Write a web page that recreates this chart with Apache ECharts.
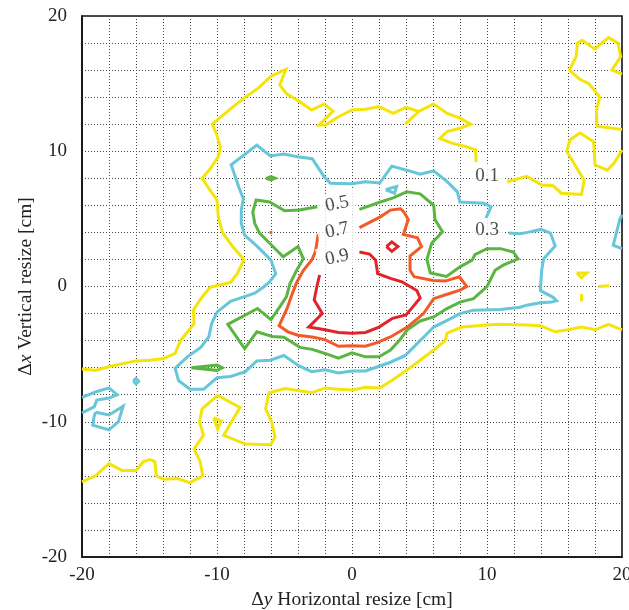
<!DOCTYPE html>
<html>
<head>
<meta charset="utf-8">
<script src="https://cdn.jsdelivr.net/npm/echarts@6/dist/echarts.min.js"></script>
<style>
  html, body { margin: 0; padding: 0; background: #fff; }
  #chart { width: 629px; height: 610px; }
</style>
</head>
<body>
<div id="chart"></div>
<script>
// Contour levels and tick labels
const levels = [0.1, 0.3, 0.5, 0.7, 0.9];
const tickValues = [-20, -10, 0, 10, 20];

// Level 0.1 contour pieces ([Δy, Δx] in cm)
const c01Main = [[-20,-6.1],[-19,-6.2],[-17.9,-5.9],[-16,-5.5],[-15,-5.45],[-14,-5.35],[-13.1,-4.95],[-12.7,-4.0],[-11.7,-2.75],[-11.75,-1.75],[-11.2,-0.9],[-10.5,-0.05],[-9.0,0.3],[-8.5,0.95],[-8.0,2.0],[-8.8,2.9],[-9.6,4.0],[-9.9,5.15],[-10.0,6.4],[-10.5,7.1],[-11.1,8.0],[-10.5,8.7],[-9.9,9.6],[-9.75,10.3],[-10.05,11.3],[-10.35,12.0],[-8.8,13.3],[-7.9,14.0],[-6.9,14.7],[-6.0,15.55],[-4.9,16.05],[-5.35,14.9],[-4.85,14.25],[-4.0,13.75],[-3.0,13.05],[-2.05,13.5],[-1.4,12.95],[-2.45,11.95],[-1.95,11.95],[-1.0,12.55],[0,13.05],[1.0,13.1],[2.0,13.3],[3.05,12.8],[4.0,13.25],[4.95,12.95],[6.05,13.5],[7.05,12.8],[8.0,12.45],[8.8,12.0],[8.0,11.7],[7.05,11.45],[6.5,10.95],[7.4,10.6],[8.4,10.35],[9.15,10.1],[9.2,9.2]];
const c01Right = [[11.5,7.75],[12.95,8.15],[13.45,7.85],[14.05,7.5],[14.9,7.45],[15.5,6.9],[17.0,6.8],[17.2,7.85],[15.9,10.0],[16.15,10.85],[16.9,11.35],[17.9,10.7],[18.0,9.0],[18.9,8.6],[19.4,9.1],[20,10.1]];
const c01TopRight = [[20,11.6],[18.15,11.85],[18.1,13.0],[18.35,14.0],[17.55,15.0],[16.9,15.3],[16.1,16.0],[16.6,17.0],[16.7,18.0],[17.05,18.2],[18.0,17.55],[18.5,18.0],[19.0,18.4],[19.7,18.0],[19.9,17.0],[19.25,16.0],[20,15.7]];
const c01Bottom = [[20,-3.2],[19,-2.8],[18,-3.2],[17,-3.0],[16,-3.2],[15.05,-3.35],[13.95,-2.9],[12.95,-2.85],[11,-2.8],[10,-2.85],[8.15,-3.0],[7.05,-3.45],[6.9,-4.0],[6.05,-4.7],[5.05,-5.45],[4.05,-6.2],[2.95,-6.95],[2.05,-7.5],[1.0,-7.45],[0,-7.65],[-1.0,-7.6],[-2.0,-7.5],[-2.95,-7.85],[-4.95,-7.55],[-6.15,-7.85],[-6.4,-9.05],[-5.95,-10.0],[-5.7,-11.15],[-6.05,-11.7],[-7.9,-11.65],[-9.5,-11.0],[-8.3,-8.95],[-9.95,-8.05],[-11.1,-9.05],[-11.3,-10.0],[-11.0,-11.0],[-11.7,-12.0],[-11.25,-12.95],[-11.05,-14.0],[-12.0,-14.5],[-12.95,-14.2],[-13.95,-14.25],[-14.5,-14.0],[-14.6,-12.95],[-14.95,-12.8],[-15.45,-12.95],[-16.0,-13.6],[-17.05,-13.6],[-18.0,-13.1],[-19.0,-14.0],[-20,-14.45]];
const c01Branch = [[4.95,12.95],[3.95,12.0]];
const c01Loop = [[-10.25,-9.7],[-9.7,-9.95],[-9.95,-10.55],[-10.25,-9.7]];
const c01Tri = [[16.65,1.0],[17.4,1.0],[17.0,0.65],[16.65,1.0]];
const c01StubA = [[17.0,-0.55],[17.0,-1.1]];
const c01StubB = [[18.25,0.0],[19.05,0.05]];

// Level 0.3 contour pieces
const c03Main = [[11.6,3.95],[12.45,3.9],[13.0,4.0],[14.0,4.22],[14.7,3.95],[15.05,3.0],[14.2,2.05],[14.05,1.2],[13.95,-0.3],[14.9,-0.8],[15.15,-1.05],[14.8,-1.15],[13.95,-1.2],[12.95,-1.38],[12.45,-1.53],[11.0,-1.7],[9.0,-1.75],[8.0,-2.0],[7.05,-2.5],[6.05,-3.0],[5.3,-3.75],[4.55,-4.5],[3.95,-5.1],[2.85,-5.6],[1.85,-5.95],[1.0,-6.25],[0,-6.25],[-1.0,-6.4],[-2.0,-6.15],[-3.0,-6.3],[-3.95,-5.85],[-5.05,-5.1],[-6.05,-5.45],[-7.05,-5.5],[-7.9,-6.3],[-9.0,-6.65],[-10.0,-6.75],[-11.0,-7.6],[-12.0,-7.6],[-12.85,-6.95],[-13.1,-6.05],[-12.2,-5.2],[-11.2,-4.5],[-10.6,-3.7],[-10.4,-2.75],[-10.0,-1.9],[-9.0,-1.1],[-7.2,-0.5],[-6.5,0.0],[-6.1,0.35],[-5.65,0.95],[-6.0,1.95],[-6.5,2.45],[-7.0,2.95],[-7.95,3.8],[-8.2,4.65],[-8.2,5.65],[-8.05,6.5],[-8.35,7.25],[-8.95,9.0],[-7.05,10.45],[-6.05,9.65],[-5.05,9.8],[-4.05,9.6],[-2.95,9.45],[-2.05,8.1],[-1.6,7.63],[0,7.6],[1.0,7.75],[2.05,7.65],[2.95,8.9],[4.05,8.6],[5.05,8.3],[6.05,8.55],[7.05,7.75],[7.8,7.0],[8.0,6.25],[9.0,6.2],[9.75,6.15],[10.3,5.9],[9.9,5.0]];
const c03LeftA = [[-20,-8.2],[-19,-7.8],[-18,-7.5],[-17.4,-8.0],[-18,-8.25],[-18.9,-8.4],[-19.1,-8.9],[-20,-9.35]];
const c03LeftB = [[-19.0,-9.3],[-18.0,-9.5],[-16.95,-8.85],[-17.3,-10.0],[-18.0,-10.6],[-19.2,-10.25],[-19.1,-9.6],[-19.0,-9.3]];
const c03Dot = [[-16.2,-7],[-16,-6.8],[-15.8,-7],[-16,-7.2],[-16.2,-7]];
const c03Tri = [[2.5,7.15],[3.3,7.4],[3.15,6.9],[2.5,7.15]];
const c03Edge = [[20,5.3],[19.85,5.0],[19.35,3.05],[20,2.8]];

// Level 0.5 contour pieces
const c05Main = [[0.55,5.7],[2.1,6.25],[3.05,6.55],[4.05,7.0],[5.05,6.85],[6.05,6.0],[6.15,4.95],[6.7,4.05],[5.9,3.2],[5.55,2.0],[5.8,1.0],[7.0,0.75],[8.0,1.45],[8.9,1.95],[9.1,2.35],[10.0,2.8],[11.0,2.8],[11.95,2.55],[12.3,2.05],[11.2,1.58],[10.6,1.2],[10.0,0.0],[9.0,-0.9],[8.0,-1.15],[7.0,-1.65],[6.05,-2.25],[5.05,-2.55],[4.1,-3.2],[3.5,-4.0],[2.85,-4.7],[2.0,-5.2],[1.0,-5.2],[0,-4.9],[-1.0,-5.3],[-2.0,-4.95],[-2.95,-4.65],[-3.85,-4.5],[-5.05,-3.75],[-5.9,-3.7],[-7.05,-3.35],[-7.95,-4.6],[-9.2,-2.8],[-7.0,-1.63],[-6.0,-2.45],[-5.35,-1.5],[-4.85,-0.75],[-4.6,0.2],[-4.1,1.2],[-3.6,2.05],[-4.0,2.95],[-5.1,2.2],[-6.1,3.2],[-6.85,3.95],[-7.2,4.65],[-7.35,5.5],[-7.1,6.4],[-6.1,6.25],[-5.0,5.6],[-3.9,5.65],[-2.55,5.9]];
const c05Dot = [[-6.35,8],[-6,8.12],[-5.7,8],[-6,7.88],[-6.35,8]];
const c05Spike = [[-11.9,-6.0],[-10,-5.8],[-9.6,-6.0],[-10,-6.2],[-11.9,-6.0]];

// Level 0.7 contour pieces
const c07Main = [[0.55,4.35],[2.1,5.15],[2.85,5.65],[3.6,5.75],[3.85,5.5],[4.17,4.95],[3.8,3.85],[4.85,3.6],[5.15,2.95],[4.3,2.25],[4.3,1.2],[4.6,0.72],[6.0,0.45],[6.9,0.4],[7.95,0.72],[8.5,0.0],[8.0,-0.27],[7.05,-0.57],[6.05,-0.9],[5.3,-2.0],[4.1,-3.0],[2.85,-3.73],[1.85,-4.15],[1.0,-4.42],[0,-4.38],[-1.0,-4.42],[-2.0,-3.93],[-2.85,-3.75],[-4.0,-3.6],[-4.75,-3.35],[-5.4,-2.9],[-4.8,-1.6],[-4.45,-0.6],[-4.1,0.3],[-3.6,1.2],[-2.95,2.0],[-2.7,2.6],[-2.5,3.9]];
const c07Dot = [[-6.1,4.0],[-6,4.1],[-5.9,4.0],[-6,3.9],[-6.1,4.0]];

// Level 0.9 contour pieces
const c09Main = [[0.55,2.55],[1.3,2.4],[1.75,1.95],[1.9,0.95],[2.85,0.6],[3.7,0.35],[4.8,-0.3],[5.05,-0.85],[4.55,-1.45],[4.0,-2.1],[3.0,-2.35],[2.0,-3.0],[1.0,-3.4],[0,-3.45],[-1.0,-3.4],[-2.0,-3.2],[-3.2,-3.0],[-2.2,-2.0],[-2.8,-1.0],[-2.6,0.0],[-2.4,0.85]];
const c09Diamond = [[2.55,2.95],[2.95,3.3],[3.4,2.95],[2.95,2.6],[2.55,2.95]];

// Inline level labels
const labelText = ['0.1', '0.3', '0.5', '0.7', '0.9'];
const labelX = [10.0, 10.0, -1.1, -1.1, -1.1];
const labelY = [8.15, 4.15, 6.1, 4.15, 2.15];

// Pieces grouped by level
const pieces = [
  [0, [c01Main, c01Right, c01TopRight, c01Bottom, c01Branch, c01Loop, c01Tri, c01StubA, c01StubB]],
  [1, [c03Main, c03LeftA, c03LeftB, c03Dot, c03Tri, c03Edge]],
  [2, [c05Main, c05Dot, c05Spike]],
  [3, [c07Main, c07Dot]],
  [4, [c09Main, c09Diamond]]
];

const colors = ['#f5e40a', '#66c6da', '#5cb542', '#f25a28', '#e2232a'];
const FONT = 'Liberation Serif';

const series = [];
pieces.forEach(([li, list]) => {
  list.forEach((arr) => {
    series.push({
      type: 'line',
      name: String(levels[li]),
      data: arr,
      symbol: 'none',
      showSymbol: false,
      clip: true,
      z: 3,
      lineStyle: { color: colors[li], width: 3, join: 'miter' },
      emphasis: { disabled: true },
      silent: true
    });
  });
});

series.push({
  type: 'scatter',
  z: 5,
  symbolSize: 1,
  silent: true,
  itemStyle: { color: 'rgba(0,0,0,0)' },
  data: labelText.map((t, i) => ({
    value: [labelX[i], labelY[i]],
    label: {
      show: true,
      position: 'inside',
      formatter: t,
      rotate: i >= 2 ? 12 : 0,
      fontFamily: FONT,
      fontSize: 19,
      color: '#222',
      backgroundColor: '#fff',
      padding: i >= 2 ? [3, 8] : [3, 5]
    }
  }))
});

const dotted = { color: '#444', width: 1, type: [1, 2] };
const tickFmt = (v) => (tickValues.indexOf(v) >= 0 ? String(v) : '');
const nameRich = {
  n: { fontFamily: FONT, fontSize: 19.5, color: '#222' },
  i: { fontFamily: FONT, fontSize: 19.5, color: '#222', fontStyle: 'italic' }
};

const chart = echarts.init(document.getElementById('chart'), null, { renderer: 'canvas' });
chart.setOption({
  animation: false,
  backgroundColor: '#fff',
  grid: {
    left: 82, top: 16, right: 7, bottom: 53,
    containLabel: false, outerBoundsMode: 'none',
    show: true, borderColor: '#111', borderWidth: 1.6
  },
  xAxis: {
    type: 'value', min: -20, max: 20, interval: 2,
    axisLine: { show: true, onZero: false, lineStyle: { color: '#111', width: 1.6 } },
    axisTick: { show: false },
    splitLine: { show: true, lineStyle: dotted },
    axisLabel: { formatter: tickFmt, fontFamily: FONT, fontSize: 19, color: '#222', margin: 9, showMinLabel: true, showMaxLabel: true },
    name: '{n|Δ}{i|y}{n| Horizontal resize [cm]}',
    nameLocation: 'middle', nameGap: 33,
    nameTextStyle: { rich: nameRich }
  },
  yAxis: {
    type: 'value', min: -20, max: 20, interval: 2,
    axisLine: { show: true, onZero: false, lineStyle: { color: '#111', width: 1.6 } },
    axisTick: { show: false },
    splitLine: { show: true, lineStyle: dotted },
    axisLabel: { formatter: tickFmt, fontFamily: FONT, fontSize: 19, color: '#222', margin: 15, showMinLabel: true, showMaxLabel: true },
    name: '{n|Δ}{i|x}{n| Vertical resize [cm]}',
    nameLocation: 'middle', nameGap: 46, nameMoveOverlap: false,
    nameTextStyle: { rich: nameRich }
  },
  series: series
});
</script>
</body>
</html>
